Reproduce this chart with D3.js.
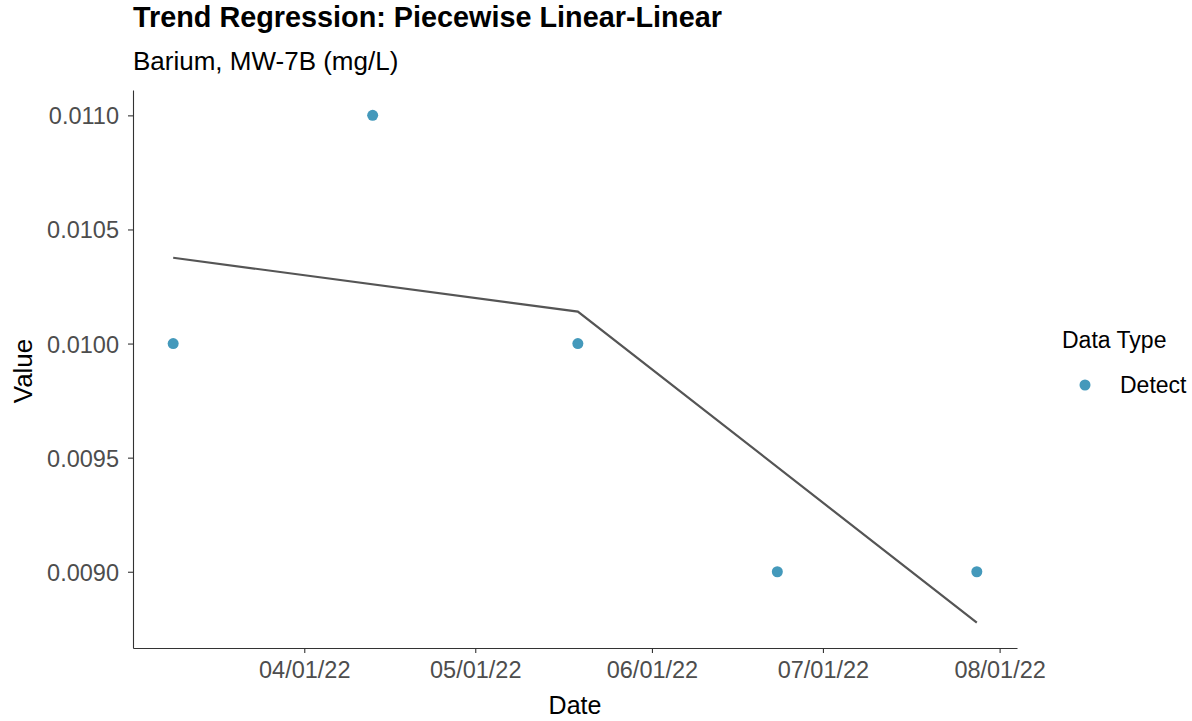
<!DOCTYPE html>
<html>
<head>
<meta charset="utf-8">
<script src="https://cdn.jsdelivr.net/npm/d3@7"></script>
<style>
  body { margin: 0; background: #fff; }
  text { font-family: "Liberation Sans", Arial, sans-serif; }
</style>
</head>
<body>
<div id="chart"></div>
<script>
// Observations (all "Detect")
const sampleDates = ['2022-03-09', '2022-04-13', '2022-05-19', '2022-06-23', '2022-07-28'];
const sampleValues = [0.0100, 0.0110, 0.0100, 0.0090, 0.0090];

// Piecewise linear fit: start, breakpoint, end
const fitDates = ['2022-03-09', '2022-05-19', '2022-07-28'];
const fitValues = [0.010376, 0.010140, 0.008777];

const yTicks = [0.0090, 0.0095, 0.0100, 0.0105, 0.0110];
const xTicks = ['2022-04-01', '2022-05-01', '2022-06-01', '2022-07-01', '2022-08-01'];

const width = 1192, height = 721;
const margin = { top: 90, right: 175, bottom: 73, left: 133 };
const pointColor = '#4499bb';

const parse = d3.utcParse('%Y-%m-%d');
const points = sampleDates.map((d, i) => ({ date: parse(d), value: sampleValues[i] }));
const fit = fitDates.map((d, i) => ({ date: parse(d), value: fitValues[i] }));

const svg = d3.select('#chart')
  .append('svg')
  .attr('width', width)
  .attr('height', height);

// ggplot-like 5% expansion of the data range
function expand(ext, f) {
  const span = ext[1] - ext[0];
  return [ext[0] - span * f, ext[1] + span * f];
}

const allDates = points.map(d => +d.date).concat(fit.map(d => +d.date));
const allVals = points.map(d => d.value).concat(fit.map(d => d.value));

const x = d3.scaleUtc()
  .domain(expand(d3.extent(allDates), 0.05))
  .range([margin.left, width - margin.right]);

const y = d3.scaleLinear()
  .domain(expand(d3.extent(allVals), 0.05))
  .range([height - margin.bottom, margin.top]);

// Axes
const fmtDate = d3.utcFormat('%m/%d/%y');

const xAxis = svg.append('g')
  .attr('transform', `translate(0,${height - margin.bottom})`)
  .call(d3.axisBottom(x)
    .tickValues(xTicks.map(parse))
    .tickFormat(fmtDate)
    .tickSize(5)
    .tickPadding(8)
    .tickSizeOuter(0));

const yAxis = svg.append('g')
  .attr('transform', `translate(${margin.left},0)`)
  .call(d3.axisLeft(y)
    .tickValues(yTicks)
    .tickFormat(d3.format('.4f'))
    .tickSize(5)
    .tickPadding(9)
    .tickSizeOuter(0));

[xAxis, yAxis].forEach(ax => {
  ax.select('.domain').attr('stroke', '#333333').attr('stroke-width', 1.1);
  ax.selectAll('.tick line').attr('stroke', '#333333').attr('stroke-width', 1.1);
  ax.selectAll('.tick text')
    .attr('fill', '#4d4d4d')
    .attr('font-size', '23.5px')
    .style('font-family', '"Liberation Sans", Arial, sans-serif');
});
yAxis.selectAll('.tick text').attr('dy', '0.36em');

// Fit line
const line = d3.line()
  .x(d => x(d.date))
  .y(d => y(d.value));

svg.append('path')
  .datum(fit)
  .attr('d', line)
  .attr('fill', 'none')
  .attr('stroke', '#555555')
  .attr('stroke-width', 2.2);

// Points
svg.append('g')
  .selectAll('circle')
  .data(points)
  .join('circle')
  .attr('cx', d => x(d.date))
  .attr('cy', d => y(d.value))
  .attr('r', 5.5)
  .attr('fill', pointColor);

// Titles
svg.append('text')
  .attr('x', margin.left)
  .attr('y', 27)
  .attr('font-size', '28.8px')
  .attr('font-weight', 'bold')
  .attr('fill', '#000')
  .text('Trend Regression: Piecewise Linear-Linear');

svg.append('text')
  .attr('x', margin.left)
  .attr('y', 70)
  .attr('font-size', '26px')
  .attr('fill', '#000')
  .text('Barium, MW-7B (mg/L)');

// Axis titles
svg.append('text')
  .attr('x', (margin.left + width - margin.right) / 2)
  .attr('y', 714)
  .attr('text-anchor', 'middle')
  .attr('font-size', '25px')
  .attr('fill', '#000')
  .text('Date');

svg.append('text')
  .attr('transform', `translate(32,${(margin.top + height - margin.bottom) / 2 + 2}) rotate(-90)`)
  .attr('text-anchor', 'middle')
  .attr('font-size', '26px')
  .attr('fill', '#000')
  .text('Value');

// Legend
const legend = svg.append('g')
  .attr('transform', 'translate(1062,0)');

legend.append('text')
  .attr('x', 0)
  .attr('y', 348)
  .attr('font-size', '23px')
  .attr('fill', '#000')
  .text('Data Type');

legend.append('circle')
  .attr('cx', 23)
  .attr('cy', 385)
  .attr('r', 5.5)
  .attr('fill', pointColor);

legend.append('text')
  .attr('x', 58)
  .attr('y', 385)
  .attr('dy', '0.36em')
  .attr('font-size', '23px')
  .attr('fill', '#000')
  .text('Detect');
</script>
</body>
</html>
